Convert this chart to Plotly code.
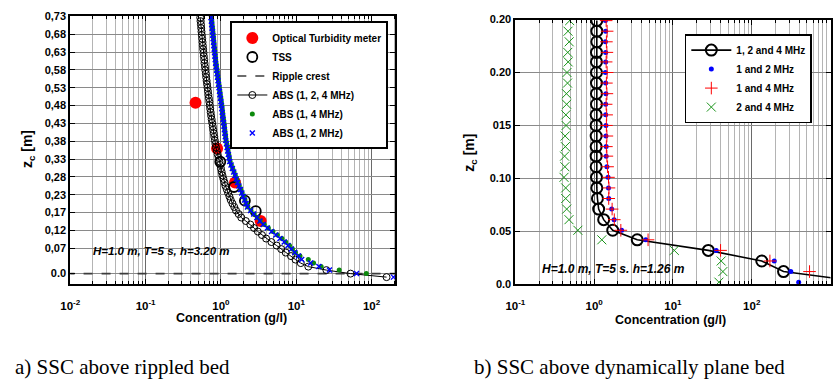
import plotly.graph_objects as go

# ---------------- Panel a) data ----------------
z_abs = [0.73, 0.72, 0.71, 0.70, 0.69, 0.68, 0.67, 0.66, 0.65, 0.64, 0.63, 0.62, 0.61, 0.60,
         0.59, 0.58, 0.57, 0.56, 0.55, 0.54, 0.53, 0.52, 0.51, 0.50, 0.49, 0.48, 0.47, 0.46,
         0.45, 0.44, 0.43, 0.42, 0.41, 0.40, 0.39, 0.38, 0.37, 0.36, 0.35, 0.34, 0.33, 0.32,
         0.31, 0.30, 0.29, 0.28, 0.27, 0.26, 0.25, 0.24, 0.23, 0.22, 0.21, 0.20, 0.19, 0.18,
         0.17, 0.16, 0.15, 0.14, 0.13, 0.12, 0.11, 0.10, 0.09, 0.08, 0.07, 0.06, 0.05, 0.04,
         0.03, 0.02, 0.01, 0.00, -0.01]

conc_abs124 = [0.531, 0.536, 0.542, 0.547, 0.552, 0.558, 0.564, 0.570, 0.575, 0.581, 0.587, 0.593,
               0.600, 0.605, 0.614, 0.621, 0.630, 0.637, 0.646, 0.655, 0.664, 0.673, 0.682, 0.692,
               0.702, 0.711, 0.721, 0.731, 0.741, 0.753, 0.766, 0.778, 0.791, 0.804, 0.817, 0.830,
               0.845, 0.859, 0.881, 0.906, 0.931, 0.955, 0.977, 1.000, 1.023, 1.047, 1.079, 1.114,
               1.148, 1.197, 1.245, 1.297, 1.349, 1.422, 1.503, 1.585, 1.718, 1.862, 2.138, 2.455,
               2.754, 3.090, 3.508, 3.981, 4.677, 5.495, 6.310, 7.244, 8.511, 9.772, 11.48, 14.45,
               25.1, 52.5, 158.0]

conc_abs14 = [0.749, 0.757, 0.764, 0.773, 0.782, 0.789, 0.798, 0.807, 0.814, 0.824, 0.834, 0.842,
              0.851, 0.861, 0.873, 0.887, 0.899, 0.912, 0.927, 0.940, 0.955, 0.968, 0.982, 0.997,
              1.012, 1.026, 1.040, 1.052, 1.066, 1.081, 1.097, 1.112, 1.125, 1.140, 1.156, 1.172,
              1.197, 1.222, 1.244, 1.271, 1.297, 1.324, 1.377, 1.432, 1.493, 1.553, 1.615, 1.679,
              1.754, 1.832, 1.914, 1.995, 2.085, 2.178, 2.275, 2.506, 2.755, 3.034, 3.334, 3.758,
              4.266, 4.898, 5.623, 6.457, 7.244, 8.128, 8.913, 9.772, 11.22, 14.45, 16.98, 21.38,
              37.15, 85.1, None]

conc_abs12 = [0.740, 0.748, 0.755, 0.764, 0.773, 0.780, 0.789, 0.798, 0.805, 0.815, 0.824, 0.832,
              0.841, 0.851, 0.863, 0.877, 0.889, 0.902, 0.916, 0.929, 0.944, 0.957, 0.971, 0.986,
              1.000, 1.014, 1.028, 1.040, 1.054, 1.069, 1.084, 1.099, 1.112, 1.127, 1.143, 1.159,
              1.183, 1.208, 1.230, 1.256, 1.282, 1.309, 1.361, 1.416, 1.476, 1.535, 1.596, 1.660,
              1.734, 1.811, 1.892, 1.972, 2.061, 2.153, 2.249, 2.477, 2.723, 2.999, 3.296, 3.631,
              4.130, 4.699, 5.346, 6.081, 6.918, 7.762, 8.610, 9.550, 10.72, 11.80, 15.49, 19.95,
              27.54, 63.1, 195.0]

z_optical = [0.487, 0.357, 0.260, 0.150]
conc_optical = [0.46, 0.89, 1.54, 3.37]

z_tss = [0.319, 0.247, 0.208, 0.178]
conc_tss = [0.98, 1.49, 2.08, 2.90]

z_ripple = [0.0, 0.0]
conc_ripple = [0.005, 300.0]

yticks_a = [0.0, 0.0727, 0.1235, 0.1743, 0.2251, 0.2759, 0.3267, 0.3775, 0.4283, 0.4791,
            0.5299, 0.5807, 0.6315, 0.6823, 0.7331]
yticktext_a = ['0.0', '0,07', '0,12', '0,17', '0,23', '0,28', '0,33', '0,38', '0,43', '0,48',
               '0,53', '0,58', '0,63', '0,68', '0,73']
xticks_a = [0.01, 0.1, 1, 10, 100]
xticktext_a = ['10<sup>-2</sup>', '10<sup>-1</sup>', '10<sup>0</sup>', '10<sup>1</sup>', '10<sup>2</sup>']

# ---------------- Panel b) data ----------------
z_b = [0.249, 0.239, 0.229, 0.219, 0.210, 0.200, 0.190, 0.180, 0.170, 0.160, 0.150, 0.140, 0.130,
       0.121, 0.111, 0.101, 0.091, 0.081, 0.071, 0.061, 0.051, 0.042, 0.032, 0.022, 0.012, 0.002]

conc_124 = [1.08, 1.08, 1.08, 1.07, 1.07, 1.07, 1.07, 1.07, 1.07, 1.06, 1.06, 1.06, 1.06,
            1.06, 1.06, 1.07, 1.08, 1.10, 1.14, 1.32, 1.72, 3.52, 28.1, 134.0, 253.0, 2800.0]
conc_12 = [1.39, 1.40, 1.39, 1.40, 1.40, 1.39, 1.40, 1.41, 1.40, 1.40, 1.41, 1.41, 1.42,
           1.42, 1.45, 1.50, 1.52, 1.53, 1.67, 1.79, 2.23, 4.52, 35.4, 193.0, 313.0, 394.0]
conc_14 = [1.42, 1.46, 1.43, 1.45, 1.42, 1.46, 1.43, 1.45, 1.42, 1.44, 1.43, 1.45, 1.43,
           1.45, 1.48, 1.52, 1.54, 1.53, 1.69, 1.80, 2.18, 4.83, 40.2, 170.0, 541.0, None]
conc_24 = [0.489, 0.466, 0.482, 0.462, 0.468, 0.452, 0.459, 0.445, 0.447, 0.437, 0.440, 0.428, 0.431,
           0.421, 0.425, 0.414, 0.435, 0.435, 0.448, 0.479, 0.621, 1.25, 10.4, 40.9, 43.0, 38.3]

yticks_b = [0.0, 0.05, 0.10, 0.15, 0.20, 0.25]
yticktext_b = ['0.0', '0.05', '0.10', '015', '0.20', '0.20']
xticks_b = [0.1, 1, 10, 100, 1000]
xticktext_b = ['10<sup>-1</sup>', '10<sup>0</sup>', '10<sup>1</sup>', '10<sup>2</sup>', '10<sup>3</sup>']


def bold(labels):
    return ['<b>' + t + '</b>' for t in labels]


# ---------------- figure ----------------
W, H = 835, 382
FONT = "Liberation Sans, Arial, sans-serif"
fig = go.Figure()

# Panel a traces (drawing order), legend order via legendrank
fig.add_trace(go.Scatter(x=conc_ripple, y=z_ripple, mode='lines', name='<b>Ripple crest</b>',
                         line=dict(color='#3c3c3c', width=1.6, dash='dash'),
                         xaxis='x', yaxis='y', legend='legend', legendrank=3))
fig.add_trace(go.Scatter(x=conc_optical, y=z_optical, mode='markers', name='<b>Optical Turbidity meter</b>',
                         marker=dict(symbol='circle', size=12, color='#ff0000'),
                         xaxis='x', yaxis='y', legend='legend', legendrank=1))
fig.add_trace(go.Scatter(x=conc_tss, y=z_tss, mode='markers', name='<b>TSS</b>',
                         marker=dict(symbol='circle-open', size=10, color='black', line=dict(width=1.8)),
                         xaxis='x', yaxis='y', legend='legend', legendrank=2))
fig.add_trace(go.Scatter(x=conc_abs124, y=z_abs, mode='lines+markers', name='<b>ABS (1, 2, 4 MHz)</b>',
                         line=dict(color='black', width=1),
                         marker=dict(symbol='circle-open', size=7, color='black', line=dict(width=1)),
                         xaxis='x', yaxis='y', legend='legend', legendrank=4))
fig.add_trace(go.Scatter(x=conc_abs14, y=z_abs, mode='markers', name='<b>ABS (1, 4 MHz)</b>',
                         marker=dict(symbol='circle', size=5, color='#0c8a0c'),
                         xaxis='x', yaxis='y', legend='legend', legendrank=5))
fig.add_trace(go.Scatter(x=conc_abs12, y=z_abs, mode='markers', name='<b>ABS (1, 2 MHz)</b>',
                         marker=dict(symbol='x-thin-open', size=5, color='#0000ff', line=dict(width=1.4, color='#0000ff')),
                         xaxis='x', yaxis='y', legend='legend', legendrank=6))

# Panel b traces
fig.add_trace(go.Scatter(x=conc_124, y=z_b, mode='lines+markers', name='<b>1, 2 and 4 MHz</b>',
                         line=dict(color='black', width=1.6),
                         marker=dict(symbol='circle-open', size=11, color='black', line=dict(width=2)),
                         xaxis='x2', yaxis='y2', legend='legend2'))
fig.add_trace(go.Scatter(x=conc_12, y=z_b, mode='markers', name='<b>1 and 2 MHz</b>',
                         marker=dict(symbol='circle', size=5, color='#0000ff'),
                         xaxis='x2', yaxis='y2', legend='legend2'))
fig.add_trace(go.Scatter(x=conc_14, y=z_b, mode='markers', name='<b>1 and 4 MHz</b>',
                         marker=dict(symbol='cross-thin-open', size=9, color='#ff0000', line=dict(width=1, color='#ff0000')),
                         xaxis='x2', yaxis='y2', legend='legend2'))
fig.add_trace(go.Scatter(x=conc_24, y=z_b, mode='markers', name='<b>2 and 4 MHz</b>',
                         marker=dict(symbol='x-thin-open', size=9, color='#1a941a', line=dict(width=1, color='#1a941a')),
                         xaxis='x2', yaxis='y2', legend='legend2'))


def px_x(p):
    return p / W


def px_y(p):
    return 1 - p / H


tickfont = dict(family=FONT, size=11, color='black')

common_x = dict(type='log', showline=True, linecolor='black', linewidth=2, mirror='allticks',
                ticks='inside', ticklen=5, tickcolor='black', tickwidth=1,
                showgrid=True, gridcolor='#6a6a6a', gridwidth=1,
                minor=dict(dtick='D1', showgrid=True, gridcolor='#b4b4b4', gridwidth=1,
                           ticks='inside', ticklen=3, tickcolor='black'),
                tickfont=dict(tickfont, size=11.5), tickmode='array', zeroline=False,
                ticklabelstandoff=10)
common_y = dict(showline=True, linecolor='black', linewidth=2, mirror='allticks',
                ticks='inside', ticklen=5, tickcolor='black', tickwidth=1,
                showgrid=True, gridcolor='#8a8a8a', gridwidth=1,
                tickfont=tickfont, tickmode='array', zeroline=False)

fig.update_layout(
    width=W, height=H, margin=dict(l=0, r=0, t=0, b=0),
    paper_bgcolor='white', plot_bgcolor='white',
    font=dict(family=FONT, color='black'),
    xaxis=dict(common_x, domain=[px_x(61), px_x(390)], range=[-2, 2.315],
               tickvals=xticks_a, ticktext=bold(xticktext_a), anchor='y'),
    yaxis=dict(common_y, domain=[px_y(287.3), px_y(10)], range=[-0.0304, 0.7356],
               tickvals=yticks_a, ticktext=bold(yticktext_a), anchor='x'),
    xaxis2=dict(common_x, domain=[px_x(511.5), px_x(830.5)], range=[-1, 3],
                tickvals=xticks_b, ticktext=bold(xticktext_b), anchor='y2'),
    yaxis2=dict(common_y, domain=[px_y(287.3), px_y(14)], range=[0, 0.25],
                tickvals=yticks_b, ticktext=bold(yticktext_b), anchor='x2'),
    legend=dict(x=px_x(223), y=px_y(16), xanchor='left', yanchor='top',
                bgcolor='white', bordercolor='black', borderwidth=2,
                font=dict(family=FONT, size=10, color='black'),
                itemwidth=30, tracegroupgap=0),
    legend2=dict(x=px_x(683), y=px_y(29), xanchor='left', yanchor='top',
                 bgcolor='white', bordercolor='black', borderwidth=1.5,
                 font=dict(family=FONT, size=10, color='black'),
                 itemwidth=40, tracegroupgap=0),
    showlegend=True,
)

# white boxes behind the condition labels (between grid and traces)
fig.add_shape(type='rect', xref='paper', yref='paper', x0=px_x(75), x1=px_x(238), y0=px_y(263), y1=px_y(242),
              fillcolor='white', line=dict(width=0), layer='between')
fig.add_shape(type='rect', xref='paper', yref='paper', x0=px_x(531), x1=px_x(688), y0=px_y(282), y1=px_y(261),
              fillcolor='white', line=dict(width=0), layer='between')

ann_font = dict(family=FONT, color='black')
annotations = [
    dict(text='<b><i>H=1.0 m, T=5 s, h=3.20 m</i></b>', x=px_x(82), y=px_y(253), xanchor='left', yanchor='middle',
         font=dict(ann_font, size=11.5)),
    dict(text='<b><i>H=1.0 m, T=5 s. h=1.26 m</i></b>', x=px_x(536), y=px_y(272), xanchor='left', yanchor='middle',
         font=dict(ann_font, size=12)),
    dict(text='<b>Concentration (g/l)</b>', x=px_x(224), y=px_y(322), xanchor='center', yanchor='middle',
         font=dict(ann_font, size=12.5)),
    dict(text='<b>Concentration (g/l)</b>', x=px_x(669), y=px_y(324), xanchor='center', yanchor='middle',
         font=dict(ann_font, size=12.5)),
    dict(text='<b>z<sub>c</sub> [m]</b>', x=px_x(19), y=px_y(148), xanchor='center', yanchor='middle',
         textangle=-90, font=dict(ann_font, size=14)),
    dict(text='<b>z<sub>c</sub> [m]</b>', x=px_x(466), y=px_y(151), xanchor='center', yanchor='middle',
         textangle=-90, font=dict(ann_font, size=14)),
    dict(text='a) SSC above rippled bed', x=px_x(3), y=px_y(373), xanchor='left', yanchor='middle',
         font=dict(family='Liberation Serif, Times New Roman, serif', size=21, color='black')),
    dict(text='b) SSC above dynamically plane bed', x=px_x(468), y=px_y(373), xanchor='left', yanchor='middle',
         font=dict(family='Liberation Serif, Times New Roman, serif', size=21, color='black')),
]
for a in annotations:
    a.update(xref='paper', yref='paper', showarrow=False)
    fig.add_annotation(**a)

fig.write_html("out.html")
